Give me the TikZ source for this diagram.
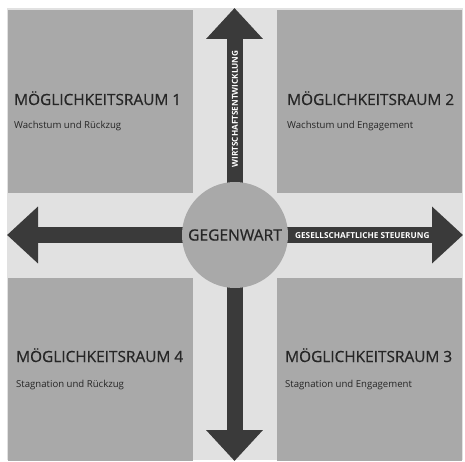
\documentclass[tikz,border=0pt]{standalone}
\usepackage{fontspec}
\setmainfont{Open Sans}
\newfontfamily\semibold[FakeBold=0.7]{Open Sans}
\usetikzlibrary{arrows.meta}
\definecolor{bgc}{HTML}{E1E1E1}
\definecolor{boxc}{HTML}{A9A9A9}
\definecolor{arrc}{HTML}{3A3A3A}
\definecolor{txtc}{HTML}{262626}
\tikzset{
  quad/.style={fill=boxc, draw=none, minimum width=185pt, minimum height=183pt, inner sep=0pt, anchor=north west},
  head/.style={font=\semibold\fontsize{15.4}{16}\selectfont, text=txtc, anchor=base west, inner sep=0pt},
  sub/.style={font=\fontsize{9.6}{10}\selectfont, text=txtc, anchor=base west, inner sep=0pt},
  bigarrow/.style={draw=arrc, line width=16pt, -{Triangle[width=55pt,length=31pt]}},
  shafttext/.style={font=\bfseries\fontsize{8.2}{9}\selectfont, text=white, inner sep=0pt}
}
\begin{document}
\begin{tikzpicture}[x=1pt,y=-1pt]
\useasboundingbox (0,0) rectangle (465,462);
\fill[white] (0,0) rectangle (465,462);
\fill[bgc] (7,8) rectangle (463,460);
% quadrants
\node[quad] (q1) at (8,10) {};
\node[quad] (q2) at (277,10) {};
\node[quad] (q4) at (8,278) {};
\node[quad] (q3) at (277,278) {};
% centre
\coordinate (c) at (234.5,235);
\coordinate (tn) at (234.5,8);
\coordinate (ts) at (234.5,461);
\coordinate (tw) at (7,235);
\coordinate (te) at (463,235);
\draw[bigarrow] (c) -- (tn);
\draw[bigarrow] (c) -- (ts);
\draw[bigarrow] (c) -- (tw);
\draw[bigarrow] (c) -- (te);
\node[circle, fill=boxc, minimum size=106pt, inner sep=0pt] (g) at (235,235) {};
\node[font=\semibold\fontsize{15.6}{16}\selectfont, text=txtc, inner sep=0pt] (gt) at (g.center) {GEGENWART};
% shaft texts
\node[shafttext, anchor=west] (ge) at (295,235.5) {GESELLSCHAFTLICHE STEUERUNG};
\node[shafttext, rotate=90] (wi) at (235,109) {WIRTSCHAFTSENTWICKLUNG};
% quadrant texts
\node[head] (h1) at (14,105) {MÖGLICHKEITSRAUM 1};
\node[sub] (s1) at (14,129) {Wachstum und Rückzug};
\node[head] (h2) at (287,105) {MÖGLICHKEITSRAUM 2};
\node[sub] (s2) at (287,129) {Wachstum und Engagement};
\node[head] (h4) at (16,362) {MÖGLICHKEITSRAUM 4};
\node[sub] (s4) at (16,387) {Stagnation und Rückzug};
\node[head] (h3) at (285,362) {MÖGLICHKEITSRAUM 3};
\node[sub] (s3) at (285,387) {Stagnation und Engagement};
\end{tikzpicture}
\end{document}
